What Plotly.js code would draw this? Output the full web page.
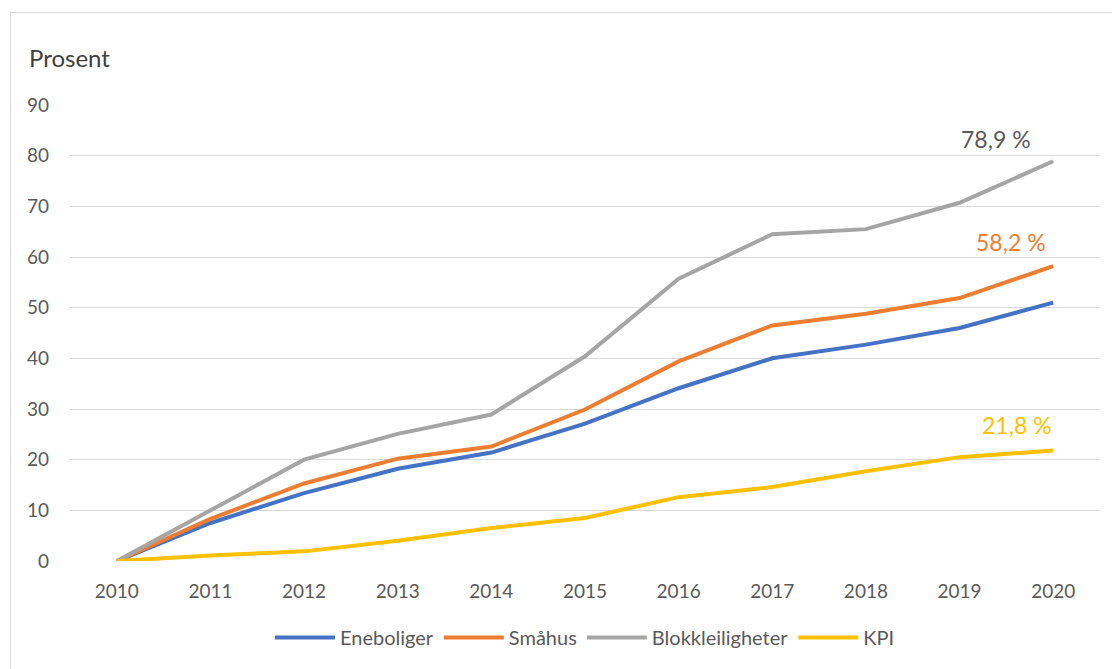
<!DOCTYPE html>
<html>
<head>
<meta charset="utf-8">
<script src="https://cdn.plot.ly/plotly-3.0.1.min.js"></script>
<style>
  html, body { margin: 0; padding: 0; background: #fff; }
  #frame { position: absolute; left: 10px; top: 12px; width: 1110px; height: 670px; border: 1px solid #d9d9d9; pointer-events: none; z-index: 5; }
  #chart { width: 1112px; height: 669px; }
</style>
</head>
<body>
<div id="frame"></div>
<div id="chart"></div>
<script>
const years = [2010, 2011, 2012, 2013, 2014, 2015, 2016, 2017, 2018, 2019, 2020];
const eneboliger = [0, 7.5, 13.4, 18.2, 21.4, 27.1, 34.1, 40.0, 42.7, 46.0, 51.0];
const smahus = [0, 8.3, 15.3, 20.2, 22.6, 29.9, 39.4, 46.5, 48.8, 51.9, 58.2];
const blokk = [0, 10.1, 20.0, 25.1, 28.9, 40.4, 55.7, 64.5, 65.5, 70.7, 78.9];
const kpi = [0, 1.1, 1.9, 4.0, 6.5, 8.5, 12.6, 14.6, 17.7, 20.5, 21.8];
const seriesNames = ["Eneboliger", "Småhus", "Blokkleiligheter", "KPI"];
const yTicks = [0, 10, 20, 30, 40, 50, 60, 70, 80, 90];

const colors = ["#4472C4", "#ED7D31", "#A5A5A5", "#FFC000"];
const allSeries = [eneboliger, smahus, blokk, kpi];
const font = "Lato, 'Open Sans', sans-serif";

const traces = allSeries.map((s, i) => ({
  x: years, y: s, type: "scatter", mode: "lines", name: seriesNames[i],
  line: { color: colors[i], width: 4 }
}));

const fmt = v => v.toFixed(1).replace(".", ",") + " %";
const last = years.length - 1;
const annotations = [
  { s: blokk, color: "#595959", shift: 22, xs: -20 },
  { s: smahus, color: "#ED7D31", shift: 24, xs: -5 },
  { s: kpi, color: "#FFC000", shift: 26, xs: 1 }
].map(a => ({
  x: years[last], y: a.s[last], xref: "x", yref: "y",
  text: fmt(a.s[last]), showarrow: false, xanchor: "right", yanchor: "middle",
  xshift: a.xs, yshift: a.shift, font: { family: font, size: 23, color: a.color }
}));
const plotW = 1112 - 70 - 12, plotH = 669 - 105 - 108;
annotations.push({
  x: (27 - 70) / plotW, y: 1 + (105 - 58) / plotH, xref: "paper", yref: "paper",
  text: "Prosent", showarrow: false, xanchor: "left", yanchor: "middle",
  font: { family: font, size: 24, color: "#404040" }
});

const layout = {
  width: 1112, height: 669,
  margin: { l: 70, r: 12, t: 105, b: 108 },
  paper_bgcolor: "#fff", plot_bgcolor: "#fff",
  font: { family: font, size: 19, color: "#595959" },
  xaxis: {
    type: "linear", range: [2009.5, 2020.5], tickvals: years, ticktext: years.map(String),
    showgrid: false, zeroline: false, showline: false, ticks: "", ticklabelstandoff: 17,
    tickfont: { family: font, size: 19, color: "#595959" }
  },
  yaxis: {
    range: [0, 90], tickvals: yTicks, showgrid: true, gridcolor: "#d9d9d9", gridwidth: 1,
    zeroline: false, showline: false, ticks: "", ticklabelstandoff: 20,
    tickfont: { family: font, size: 19, color: "#595959" }
  },
  showlegend: true,
  legend: {
    orientation: "h", x: 0.5, xanchor: "center", y: -0.168, yanchor: "middle",
    font: { family: font, size: 20, color: "#595959" }, itemwidth: 60, tracegroupgap: 0
  },
  annotations: annotations
};

Plotly.newPlot("chart", traces, layout, { displayModeBar: false, staticPlot: true });
</script>
</body>
</html>
